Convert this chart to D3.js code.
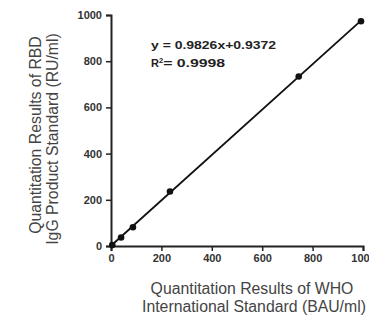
<!DOCTYPE html>
<html>
<head>
<meta charset="utf-8">
<script src="https://cdn.jsdelivr.net/npm/d3@7"></script>
<style>
body { margin: 0; background: #fff; }
svg { display: block; font-family: "Liberation Sans", Arial, sans-serif; }
.tick text { font-weight: bold; font-size: 11px; fill: #333; }
.axisText { font-size: 15.8px; fill: #444; }
</style>
</head>
<body>
<div id="chart"></div>
<script>
var svgWidth = 369;
var svgHeight = 317;

var margin = { top: 15, right: 6, bottom: 71, left: 111 };
var width = 363 - margin.left;
var height = 246 - margin.top;

// WHO standard (BAU/ml) vs RBD IgG product standard (RU/ml)
var whoValues = [5, 40, 87, 234, 745, 992];
var rbdValues = [4, 37, 81, 236, 734, 973];
var xTicks = [0, 200, 400, 600, 800, 1000];
var yTicks = [0, 200, 400, 600, 800, 1000];
var slope = 0.9826, intercept = 0.9372;

var svg = d3.select("#chart")
  .append("svg")
  .attr("width", svgWidth)
  .attr("height", svgHeight);

var chart = svg.append("g")
  .attr("transform", `translate(${margin.left}, ${margin.top})`);

var x = d3.scaleLinear().domain([0, 1000]).range([0, width]);
var y = d3.scaleLinear().domain([0, 1000]).range([height, 0]);

var bottomAxis = d3.axisBottom(x).tickValues(xTicks).tickFormat(d3.format("d")).tickSize(5).tickPadding(3);
var leftAxis = d3.axisLeft(y).tickValues(yTicks).tickFormat(d3.format("d")).tickSize(5).tickPadding(4);

var gx = chart.append("g")
  .attr("transform", `translate(0, ${height})`)
  .call(bottomAxis);
var gy = chart.append("g").call(leftAxis);

[gx, gy].forEach(function(g) {
  g.select(".domain").attr("stroke", "#222").attr("stroke-width", 2);
  g.selectAll(".tick line").attr("stroke", "#222").attr("stroke-width", 1.5);
});

// regression line
chart.append("line")
  .attr("x1", x(0)).attr("y1", y(intercept))
  .attr("x2", x(992)).attr("y2", y(slope * 992 + intercept))
  .attr("stroke", "#111")
  .attr("stroke-width", 1.8);

chart.selectAll("circle")
  .data(whoValues)
  .enter()
  .append("circle")
  .attr("cx", (d, i) => x(d))
  .attr("cy", (d, i) => y(rbdValues[i]))
  .attr("r", 3.3)
  .attr("fill", "#111");

// equation
svg.append("text")
  .attr("x", 151)
  .attr("y", 49)
  .attr("font-size", "11px")
  .attr("font-weight", "bold")
  .attr("fill", "#222")
  .attr("textLength", 125)
  .attr("lengthAdjust", "spacingAndGlyphs")
  .text("y = 0.9826x+0.9372");

var r2 = svg.append("text")
  .attr("x", 151)
  .attr("y", 67)
  .attr("font-size", "11px")
  .attr("font-weight", "bold")
  .attr("fill", "#222");
r2.append("tspan").text("R");
r2.append("tspan").attr("font-size", "7.5px").attr("dy", "-4.5").text("2");
r2.append("tspan").attr("dy", "4.5")
  .attr("textLength", 62)
  .attr("lengthAdjust", "spacingAndGlyphs")
  .text("= 0.9998");

// axis titles
svg.append("text")
  .attr("class", "axisText")
  .attr("transform", "translate(41, 135) rotate(-90)")
  .attr("text-anchor", "middle")
  .text("Quantitation Results of RBD");
svg.append("text")
  .attr("class", "axisText")
  .attr("transform", "translate(58, 139) rotate(-90)")
  .attr("text-anchor", "middle")
  .text("IgG Product Standard (RU/ml)");

svg.append("text")
  .attr("class", "axisText")
  .attr("x", 252).attr("y", 294)
  .attr("text-anchor", "middle")
  .text("Quantitation Results of WHO");
svg.append("text")
  .attr("class", "axisText")
  .attr("x", 254).attr("y", 312)
  .attr("text-anchor", "middle")
  .text("International Standard (BAU/ml)");
</script>
</body>
</html>
